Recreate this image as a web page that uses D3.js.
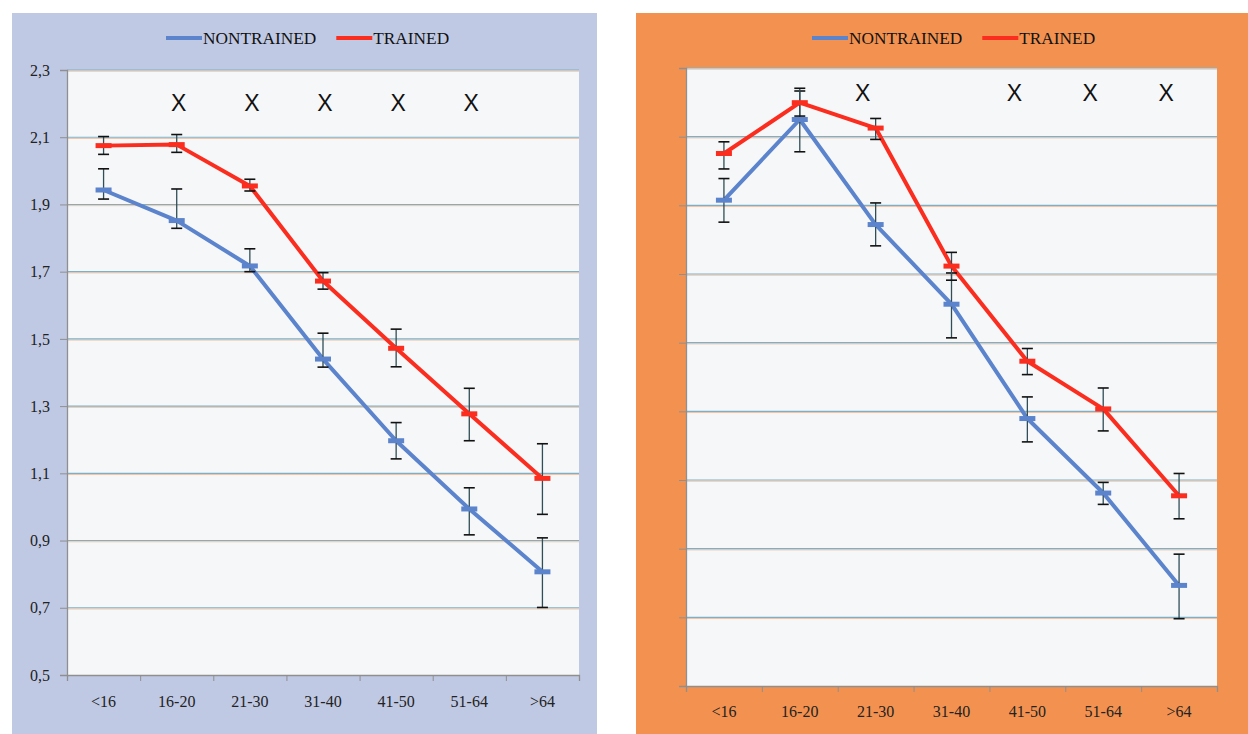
<!DOCTYPE html>
<html>
<head>
<meta charset="utf-8">
<script src="https://cdn.jsdelivr.net/npm/d3@7"></script>
<style>
body { margin: 0; background: #fff; }
</style>
</head>
<body>
<div id="chart"></div>
<script>
var ageGroups = ["<16", "16-20", "21-30", "31-40", "41-50", "51-64", ">64"]
var seriesNames = ["NONTRAINED", "TRAINED"]
var yTicks = [0.5, 0.7, 0.9, 1.1, 1.3, 1.5, 1.7, 1.9, 2.1, 2.3]
var yTickLabels = ["0,5", "0,7", "0,9", "1,1", "1,3", "1,5", "1,7", "1,9", "2,1", "2,3"]

// left chart
var leftNontrained     = [1.943, 1.852, 1.717, 1.440, 1.197, 0.994, 0.807]
var leftNontrainedHigh = [2.006, 1.946, 1.768, 1.517, 1.251, 1.057, 0.908]
var leftNontrainedLow  = [1.916, 1.829, 1.700, 1.416, 1.143, 0.917, 0.701]
var leftTrained        = [2.075, 2.078, 1.955, 1.672, 1.472, 1.277, 1.085]
var leftTrainedHigh    = [2.102, 2.108, 1.975, 1.697, 1.529, 1.353, 1.188]
var leftTrainedLow     = [2.049, 2.055, 1.940, 1.648, 1.417, 1.197, 0.978]
var leftMarked = ["16-20", "21-30", "31-40", "41-50", "51-64"]

// right chart (same scale, axis unlabeled)
var rightNontrained     = [1.915, 2.150, 1.844, 1.612, 1.279, 1.062, 0.793]
var rightNontrainedHigh = [1.978, 2.233, 1.907, 1.703, 1.342, 1.093, 0.884]
var rightNontrainedLow  = [1.851, 2.056, 1.782, 1.514, 1.211, 1.029, 0.696]
var rightTrained        = [2.051, 2.199, 2.125, 1.723, 1.446, 1.307, 1.054]
var rightTrainedHigh    = [2.085, 2.241, 2.153, 1.763, 1.483, 1.368, 1.119]
var rightTrainedLow     = [2.006, 2.160, 2.092, 1.682, 1.407, 1.243, 0.987]
var rightMarked = ["21-30", "41-50", "51-64", ">64"]

var colors = ["#5b84cc", "#fb2d1f"]

var svg = d3.select("#chart").append("svg")
    .attr("width", 1248)
    .attr("height", 734)

function drawPanel(p) {
    var g = svg.append("g")

    g.append("rect")
        .attr("x", p.bg[0]).attr("y", p.bg[1])
        .attr("width", p.bg[2] - p.bg[0]).attr("height", p.bg[3] - p.bg[1])
        .attr("fill", p.bgColor)

    var x = d3.scaleBand()
        .domain(ageGroups)
        .range([p.plot[0], p.plot[2]])

    var y = d3.scaleLinear()
        .domain([0.5, 2.3])
        .range([p.plot[3], p.plot[1]])

    g.append("rect")
        .attr("x", p.plot[0]).attr("y", p.plot[1])
        .attr("width", p.plot[2] - p.plot[0]).attr("height", p.plot[3] - p.plot[1])
        .attr("fill", "#f6f7f9")

    // gridlines: teal line with a faint orange edge, like the scan
    var grid = yTicks.slice(1)
    g.selectAll(".gridB").data(grid).enter().append("line")
        .attr("x1", p.plot[0]).attr("x2", p.plot[2])
        .attr("y1", function(d) { return y(d) + 1.2 })
        .attr("y2", function(d) { return y(d) + 1.2 })
        .attr("stroke", "#efc3a6").attr("stroke-width", 1)
    g.selectAll(".gridA").data(grid).enter().append("line")
        .attr("x1", p.plot[0]).attr("x2", p.plot[2])
        .attr("y1", function(d) { return y(d) })
        .attr("y2", function(d) { return y(d) })
        .attr("stroke", "#80afc4").attr("stroke-width", 1.1)

    // y axis
    var yAxis = d3.axisLeft(y).tickValues(yTicks).tickSize(7).tickPadding(10)
        .tickFormat(function(d, i) { return p.yLabels ? yTickLabels[i] : "" })
    g.append("g")
        .attr("transform", "translate(" + p.plot[0] + ",0)")
        .call(yAxis)
        .call(function(a) {
            a.selectAll("line").attr("stroke", "#8f8f8f")
            a.select(".domain").attr("stroke", "#8f8f8f").attr("stroke-width", 1.3)
            a.selectAll("text").attr("fill", "#222")
                .style("font-family", "'Liberation Serif', 'Times New Roman', serif")
                .style("font-size", "16px")
        })

    // x axis: ticks at category boundaries
    var xb = d3.scaleLinear().domain([0, ageGroups.length]).range([p.plot[0], p.plot[2]])
    var xAxis = d3.axisBottom(xb).tickValues(d3.range(ageGroups.length + 1))
        .tickSize(6).tickFormat("")
    g.append("g")
        .attr("transform", "translate(0," + p.plot[3] + ")")
        .call(xAxis)
        .call(function(a) {
            a.selectAll("line").attr("stroke", "#8f8f8f")
            a.select(".domain").attr("stroke", "#8f8f8f").attr("stroke-width", 1.3)
        })

    g.selectAll(".xlab").data(ageGroups).enter().append("text")
        .attr("x", function(d) { return x(d) + x.bandwidth() / 2 })
        .attr("y", p.xLabelY)
        .attr("text-anchor", "middle")
        .attr("fill", "#222")
        .style("font-family", "'Liberation Serif', 'Times New Roman', serif")
        .style("font-size", "16px")
        .text(function(d) { return d })

    // significance marks
    g.selectAll(".mark").data(p.marked).enter().append("text")
        .attr("x", function(d) { return x(d) + x.bandwidth() / 2 + p.markShift })
        .attr("y", p.markY)
        .attr("text-anchor", "middle")
        .attr("fill", "#111")
        .style("font-family", "'Liberation Sans', Arial, sans-serif")
        .style("font-size", "23px")
        .text("X")

    var cx = function(i) { return x(ageGroups[i]) + x.bandwidth() / 2 }

    var line = d3.line()
        .x(function(d, i) { return cx(i) })
        .y(function(d) { return y(d) })

    p.series.forEach(function(s, k) {
        g.append("path")
            .datum(s.mean)
            .attr("d", line)
            .attr("fill", "none")
            .attr("stroke", colors[k])
            .attr("stroke-width", 4)
            .attr("stroke-linejoin", "round")
    })

    p.series.forEach(function(s, k) {
        var eb = g.append("g")
        s.mean.forEach(function(m, i) {
            var xx = cx(i)
            eb.append("line")
                .attr("x1", xx).attr("x2", xx)
                .attr("y1", y(s.high[i])).attr("y2", y(s.low[i]))
                .attr("stroke", "#2f4e56").attr("stroke-width", 1.3)
            ;[s.high[i], s.low[i]].forEach(function(v) {
                eb.append("line")
                    .attr("x1", xx - 5.5).attr("x2", xx + 5.5)
                    .attr("y1", y(v)).attr("y2", y(v))
                    .attr("stroke", "#111").attr("stroke-width", 1.6)
            })
        })
        // dash markers
        g.selectAll(".mk" + k).data(s.mean).enter().append("rect")
            .attr("x", function(d, i) { return cx(i) - 8 })
            .attr("y", function(d) { return y(d) - 2.5 })
            .attr("width", 16).attr("height", 5)
            .attr("fill", colors[k])
    })

    // legend
    var lx = p.legendX
    seriesNames.forEach(function(name, k) {
        g.append("line")
            .attr("x1", lx).attr("x2", lx + 36)
            .attr("y1", 38).attr("y2", 38)
            .attr("stroke", colors[k]).attr("stroke-width", 4)
        var t = g.append("text")
            .attr("x", lx + 37).attr("y", 44)
            .attr("fill", "#111")
            .style("font-family", "'Liberation Serif', 'Times New Roman', serif")
            .style("font-size", "17.3px")
            .text(name)
        lx = lx + 37 + t.node().getComputedTextLength() + 20
    })
}

drawPanel({
    bg: [12, 13, 597, 734], bgColor: "#c0c9e4",
    plot: [67, 70, 579, 675],
    yLabels: true, xLabelY: 707,
    marked: leftMarked, markY: 111, markShift: 2,
    legendX: 166,
    series: [
        { mean: leftNontrained, high: leftNontrainedHigh, low: leftNontrainedLow },
        { mean: leftTrained, high: leftTrainedHigh, low: leftTrainedLow }
    ]
})

drawPanel({
    bg: [636, 13, 1248, 734], bgColor: "#f39250",
    plot: [686, 68, 1217, 686],
    yLabels: false, xLabelY: 717,
    marked: rightMarked, markY: 101, markShift: -13,
    legendX: 812,
    series: [
        { mean: rightNontrained, high: rightNontrainedHigh, low: rightNontrainedLow },
        { mean: rightTrained, high: rightTrainedHigh, low: rightTrainedLow }
    ]
})
</script>
</body>
</html>
